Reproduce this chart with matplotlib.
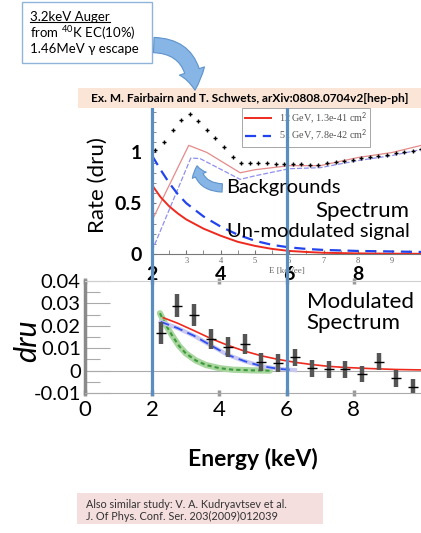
import matplotlib
matplotlib.use("Agg")
import matplotlib.pyplot as plt
import matplotlib.transforms as mtrans
from matplotlib.patches import Rectangle, FancyArrowPatch
from matplotlib.lines import Line2D
from matplotlib.ticker import MultipleLocator

plt.rcParams['font.family'] = ['Lato', 'DejaVu Sans']
plt.rcParams['mathtext.fontset'] = 'custom'
plt.rcParams['mathtext.rm'] = 'Lato'
plt.rcParams['mathtext.it'] = 'Lato:italic'

W, H = 421, 533

# --- top panel (unmodulated spectrum, Fairbairn & Schwetz) ---
e_sig = [2.0, 2.25, 2.5, 2.75, 3.0, 3.5, 4.0, 4.5, 5.0, 5.5, 6.0, 6.5, 7.0, 8.0, 9.0, 9.85]
sig_12gev = [0.68, 0.56, 0.47, 0.40, 0.34, 0.25, 0.18, 0.12, 0.08, 0.05, 0.03, 0.02, 0.012, 0.006, 0.003, 0.002]
sig_51gev = [0.97, 0.83, 0.70, 0.59, 0.50, 0.37, 0.27, 0.19, 0.13, 0.09, 0.065, 0.05, 0.04, 0.03, 0.025, 0.02]
e_bg_red = [2.0, 3.07, 3.6, 4.57, 5.0, 6.0, 6.9, 8.0, 9.0, 9.85]
bg_red = [0.33, 1.07, 1.00, 0.80, 0.83, 0.87, 0.87, 0.95, 1.00, 1.07]
e_bg_blue = [2.0, 3.13, 3.4, 4.57, 5.0, 6.0, 6.9, 8.0, 9.0, 9.85]
bg_blue = [0.03, 0.945, 0.94, 0.735, 0.77, 0.84, 0.85, 0.92, 0.97, 1.03]
e_tot = [2.10, 2.35, 2.60, 2.85, 3.10, 3.35, 3.60, 3.85, 4.10, 4.35, 4.60, 4.85,
         5.10, 5.35, 5.60, 5.85, 6.10, 6.35, 6.60, 6.85, 7.10, 7.35, 7.60, 7.85,
         8.10, 8.35, 8.60, 8.85, 9.10, 9.35, 9.60, 9.85]
tot = [1.02, 1.10, 1.22, 1.32, 1.38, 1.31, 1.22, 1.14, 1.05, 0.96, 0.90, 0.90,
       0.90, 0.90, 0.89, 0.89, 0.89, 0.89, 0.88, 0.88, 0.90, 0.91, 0.92, 0.93,
       0.95, 0.96, 0.97, 0.98, 0.99, 1.00, 1.01, 1.03]

# --- bottom panel (modulated spectrum) ---
e_bins = [2.25, 2.75, 3.25, 3.75, 4.25, 4.75, 5.25, 5.75, 6.25, 6.75, 7.25, 7.75, 8.25, 8.75, 9.25, 9.75]
mod = [0.0167, 0.029, 0.0248, 0.0141, 0.0107, 0.0119, 0.004, 0.0033, 0.0059, 0.001,
       0.0006, 0.0006, -0.0015, 0.004, -0.0034, -0.0075]
mod_err = [0.0048, 0.005, 0.005, 0.0045, 0.0045, 0.0045, 0.004, 0.004, 0.0037, 0.0037,
           0.0037, 0.0037, 0.0037, 0.0037, 0.0037, 0.0037]
e_red = [2.33, 2.75, 3.25, 3.75, 4.25, 4.75, 5.25, 5.75, 6.25, 6.75, 7.25, 7.75, 8.5, 9.25, 10.0]
mod_red = [0.0236, 0.0212, 0.0178, 0.0143, 0.0113, 0.0087, 0.0066, 0.005, 0.0037, 0.0027,
           0.0019, 0.0014, 0.0009, 0.0005, 0.0003]
e_blue = [2.25, 2.75, 3.25, 3.75, 4.25, 4.75, 5.25, 5.75, 6.25]
mod_blue = [0.0218, 0.019, 0.0155, 0.0112, 0.007, 0.0042, 0.002, 0.0008, 0.0002]
e_green = [2.23, 2.4, 2.6, 2.8, 3.0, 3.3, 3.6, 4.0, 4.4, 5.0, 5.5]
mod_green = [0.0256, 0.0205, 0.0155, 0.011, 0.0077, 0.0045, 0.0025, 0.0011, 0.0004, 0.0001, 0.0]

legend_labels = ["12 GeV, 1.3e-41 cm$^2$", "51 GeV, 7.8e-42 cm$^2$"]
big_ticks = [2, 4, 6, 8]
window = [2, 6]


def box(l, t, r, b):
    return [l / W, 1 - b / H, (r - l) / W, (b - t) / H]


fig = plt.figure(figsize=(W / 100, H / 100), dpi=100)

# top panel
ax1 = fig.add_axes(box(152, 108, 421, 254))
ax1.set_xlim(2, 9.84)
ax1.set_ylim(0, 1.438)
ax1.plot(e_bg_red, bg_red, color='#e58a8a', lw=0.9)
ax1.plot(e_bg_blue, bg_blue, color='#8f8ff0', lw=0.9, ls=(0, (4, 1.5)))
l1, = ax1.plot(e_sig, sig_12gev, color='#ee2a1e', lw=1.4)
l2, = ax1.plot(e_sig, sig_51gev, color='#2244ee', lw=1.6, ls=(0, (5, 3)))
ax1.plot(e_tot, tot, ls='none', marker='+', ms=3, mew=1.0, color='black')
leg = ax1.legend([l1, l2], legend_labels, loc='upper left', bbox_to_anchor=(0.335, 1.0),
                 prop={'family': ['Liberation Serif'], 'size': 7.3}, fancybox=False,
                 edgecolor='#999999', framealpha=1, borderpad=0.25, labelspacing=0.15,
                 handlelength=2.6, borderaxespad=0)
leg.get_frame().set_linewidth(0.6)
for t in leg.get_texts():
    t.set_color('#555555')
for s in ['top', 'right']:
    ax1.spines[s].set_visible(False)
ax1.spines['bottom'].set_color('#777777')
ax1.spines['bottom'].set_linewidth(0.8)
ax1.spines['left'].set_color('#777777')
ax1.set_xticks([3, 4, 5, 6, 7, 8, 9])
ax1.set_xticklabels(['3', '4', '5', '6', '7', '8', '9'], family=['Liberation Serif'],
                    fontsize=6, color='#666666')
ax1.xaxis.set_minor_locator(MultipleLocator(0.5))
ax1.tick_params(axis='x', which='both', direction='in', length=3, color='#777777', pad=2)
ax1.set_yticks([0, 0.5, 1])
ax1.set_yticklabels(['0', '0.5', '1'], fontsize=14, fontweight='bold')
ax1.yaxis.set_minor_locator(MultipleLocator(0.1))
ax1.tick_params(axis='y', which='both', direction='in', length=3, color='#777777', pad=7)
ax1.set_xlabel('E [keVee]', family=['Liberation Serif'], fontsize=6.5, color='#666666',
               labelpad=1.5)
ax1.set_ylabel('Rate (dru)', fontsize=16)
ax1.yaxis.set_label_coords(-0.165, 0.47)
for e in big_ticks:
    ax1.text(e, -0.205, str(e), ha='center', va='center', fontsize=14,
             fontweight='bold', clip_on=False)

# bottom panel
ax2 = fig.add_axes(box(85, 281, 421, 393))
ax2.set_xlim(0, 10)
ax2.set_ylim(-0.01, 0.04)
ax2.axhline(0, color='#aaaaaa', lw=0.8, zorder=1)
ax2.axvline(0, color='#8a8a8a', lw=2.5, clip_on=False, zorder=2)
ax2.plot(e_green, mod_green, color='#a9d69f', lw=4.5, solid_capstyle='round')
ax2.plot(e_green, mod_green, color='#3c9a3c', lw=1.5, ls=(0, (2, 1.5)))
ax2.plot(e_blue, mod_blue, color='#c8c8f0', lw=3)
ax2.plot(e_blue, mod_blue, color='#2f4ff0', lw=1.3, ls=(0, (5, 3)))
ax2.plot(e_red, mod_red, color='#ee2a1e', lw=1.2)
ax2.errorbar(e_bins, mod, yerr=mod_err, fmt='none', ecolor='#555555', elinewidth=3.2)
ax2.errorbar(e_bins, mod, xerr=0.15, fmt='none', ecolor='black', elinewidth=1)
ax2.spines['right'].set_visible(False)
ax2.spines['left'].set_visible(False)
ax2.spines['top'].set_color('#d0d0d0')
ax2.spines['top'].set_linewidth(0.8)
ax2.spines['bottom'].set_color('#aaaaaa')
ax2.spines['bottom'].set_linewidth(0.8)
ax2.set_xticks([0, 2, 4, 6, 8])
ax2.set_xticklabels(['0', '2', '4', '6', '8'], fontsize=16)
ax2.tick_params(axis='x', direction='inout', length=4, width=2.5, color='#999999', pad=3,
                top=True)
ax2.set_yticks([-0.01, 0, 0.01, 0.02, 0.03, 0.04])
ax2.set_yticklabels(['-0.01', '0', '0.01', '0.02', '0.03', '0.04'], fontsize=14.5)
ax2.yaxis.set_minor_locator(MultipleLocator(0.005))
ax2.tick_params(axis='y', which='major', direction='in', length=18, width=0.8,
                color='#aaaaaa', pad=3)
ax2.tick_params(axis='y', which='minor', direction='in', length=11, width=0.8,
                color='#aaaaaa')
ax2.set_ylabel('dru', fontsize=22, style='italic')
ax2.yaxis.set_label_coords(-0.13, 0.47)
ax2.text(0.66, 0.72, 'Modulated\nSpectrum', transform=ax2.transAxes, fontsize=16,
         ha='left', va='center', linespacing=1.05)
ax2.set_xlabel('Energy (keV)', fontsize=16.5, fontweight='bold', labelpad=20)

# overlay in pixel coordinates for the slide annotations
ov = fig.add_axes([0, 0, 1, 1], zorder=10)
ov.set_xlim(0, W)
ov.set_ylim(H, 0)
ov.axis('off')

vtrans = mtrans.blended_transform_factory(ax2.transData, ov.transData)
for e in window:
    ov.add_line(Line2D([e, e], [98, 394], transform=vtrans, color='#5b8ec0', lw=2.3,
                       zorder=1, clip_on=False))

ov.add_patch(Rectangle((78, 88), W - 78, 20, facecolor='#fbe5d6', edgecolor='none', zorder=2))
ov.text(250, 98.5, 'Ex. M. Fairbairn and T. Schwets, arXiv:0808.0704v2[hep-ph]',
        ha='center', va='center', fontsize=8.6, fontweight='bold', zorder=3)

ov.add_patch(Rectangle((22, 2), 130, 61, facecolor='white', edgecolor='#8fb3d9',
                       lw=1, zorder=2))
t1 = ov.text(30, 17, '3.2keV Auger', fontsize=9.5, va='center', zorder=3)
ov.text(30, 33, 'from $^{40}$K EC(10%)', fontsize=9.5, va='center', zorder=3)
ov.text(30, 49, '1.46MeV \u03b3 escape', fontsize=9.5, va='center', zorder=3)

arrow_kw = dict(facecolor='#86b5e6', edgecolor='#5f93cc', lw=0.8, zorder=4)
ov.add_patch(FancyArrowPatch((151, 45), (195, 93),
                             connectionstyle='angle3,angleA=0,angleB=90',
                             arrowstyle='simple,head_length=1.4,head_width=1.9,tail_width=1.1',
                             mutation_scale=10, **arrow_kw))
ov.add_patch(FancyArrowPatch((225, 188), (197, 163),
                             connectionstyle='angle3,angleA=0,angleB=90',
                             arrowstyle='simple,head_length=0.7,head_width=1.1,tail_width=0.6',
                             mutation_scale=10, **arrow_kw))

ov.text(226, 187, 'Backgrounds', fontsize=14.5, va='center', zorder=5)
ov.text(409, 211, 'Spectrum', fontsize=16, va='center', ha='right', zorder=5)
ov.text(410, 231, 'Un-modulated signal', fontsize=14.5, va='center', ha='right', zorder=5)

ov.add_patch(Rectangle((77, 493), 246, 31, facecolor='#f5dede', edgecolor='none', zorder=2))
ov.text(86, 504, 'Also similar study: V. A. Kudryavtsev et al.', fontsize=7.8,
        va='center', color='#333333', zorder=3)
ov.text(86, 516, 'J. Of Phys. Conf. Ser. 203(2009)012039', fontsize=7.8,
        va='center', color='#333333', zorder=3)

# underline the first line of the note box
fig.canvas.draw()
bb = t1.get_window_extent().transformed(ov.transData.inverted())
y_ul = max(bb.y0, bb.y1) - 1.5
ov.plot([bb.x0, bb.x1], [y_ul, y_ul], color='black', lw=0.8, zorder=3)

fig.savefig('out.png', dpi=100)
